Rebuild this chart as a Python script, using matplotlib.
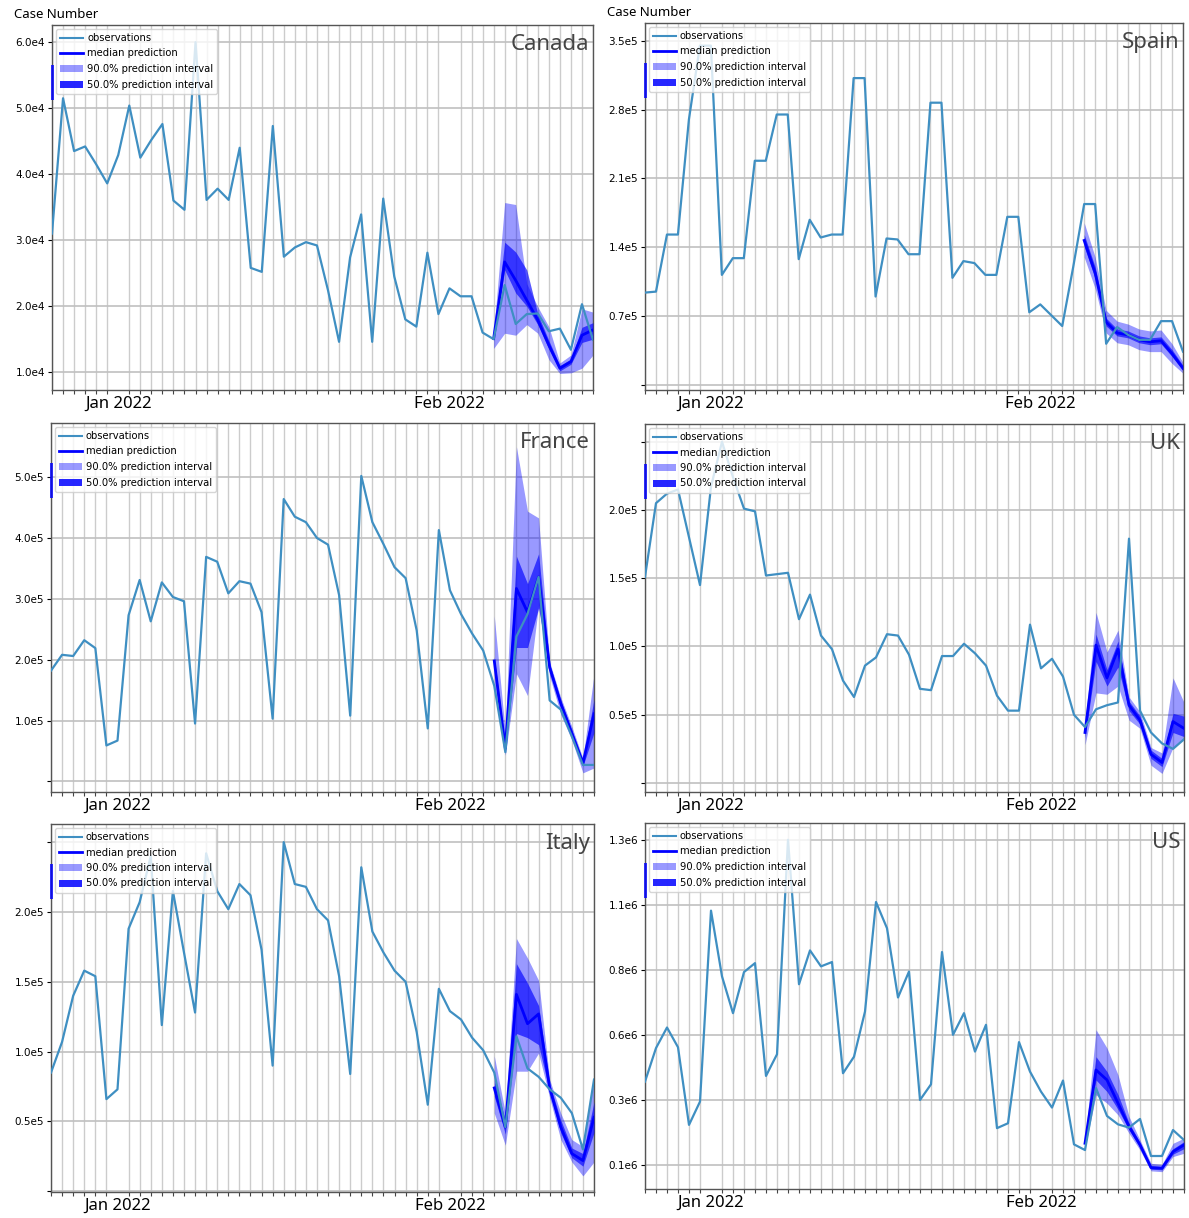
import matplotlib
matplotlib.use('Agg')
import matplotlib.pyplot as plt
import matplotlib.dates as mdates
from matplotlib.lines import Line2D
from matplotlib.patches import Patch, Rectangle
import numpy as np
import pandas as pd
from datetime import datetime

dates = pd.date_range('2021-12-28', periods=50)
pred_dates = dates[40:]

# observations
canada_obs = np.array([3.1, 5.15, 4.35, 4.42, 4.15, 3.86, 4.29, 5.04, 4.25, 4.52,
                       4.76, 3.6, 3.46, 6.0, 3.61, 3.78, 3.61, 4.4, 2.58, 2.52,
                       4.73, 2.75, 2.89, 2.97, 2.92, 2.24, 1.46, 2.74, 3.39, 1.46,
                       3.63, 2.45, 1.8, 1.69, 2.81, 1.88, 2.27, 2.15, 2.15, 1.6,
                       1.5, 2.32, 1.73, 1.88, 1.89, 1.62, 1.66, 1.34, 2.03, 1.49]) * 1e4
spain_obs = np.array([0.94, 0.95, 1.53, 1.53, 2.7, 3.45, 3.45, 1.12, 1.29, 1.29,
                      2.28, 2.28, 2.75, 2.75, 1.28, 1.68, 1.5, 1.53, 1.53, 3.12,
                      3.12, 0.9, 1.49, 1.48, 1.33, 1.33, 2.87, 2.87, 1.09, 1.26,
                      1.24, 1.12, 1.12, 1.71, 1.71, 0.74, 0.82, 0.71, 0.6, 1.2,
                      1.84, 1.84, 0.42, 0.59, 0.51, 0.46, 0.46, 0.65, 0.65, 0.34]) * 1e5
france_obs = np.array([1.82, 2.08, 2.06, 2.32, 2.19, 0.59, 0.67, 2.73, 3.31, 2.63,
                       3.27, 3.03, 2.96, 0.95, 3.69, 3.61, 3.09, 3.29, 3.25, 2.78,
                       1.03, 4.64, 4.35, 4.26, 4.0, 3.89, 3.06, 1.08, 5.02, 4.26,
                       3.9, 3.52, 3.34, 2.48, 0.87, 4.13, 3.14, 2.75, 2.43, 2.15,
                       1.57, 0.48, 2.38, 2.75, 3.36, 1.33, 1.18, 0.74, 0.27, 0.27]) * 1e5
uk_obs = np.array([1.51, 2.05, 2.12, 2.15, 1.8, 1.45, 2.17, 2.5, 2.24, 2.01,
                   1.99, 1.52, 1.53, 1.54, 1.2, 1.38, 1.08, 0.98, 0.75, 0.63,
                   0.86, 0.92, 1.09, 1.08, 0.94, 0.69, 0.68, 0.93, 0.93, 1.02,
                   0.95, 0.86, 0.64, 0.53, 0.53, 1.16, 0.84, 0.91, 0.78, 0.5,
                   0.41, 0.54, 0.57, 0.59, 1.79, 0.53, 0.37, 0.29, 0.25, 0.32]) * 1e5
italy_obs = np.array([0.85, 1.07, 1.4, 1.58, 1.54, 0.66, 0.73, 1.88, 2.07, 2.4,
                      1.19, 2.15, 1.71, 1.28, 2.42, 2.15, 2.02, 2.2, 2.12, 1.73,
                      0.9, 2.5, 2.2, 2.18, 2.02, 1.94, 1.54, 0.84, 2.32, 1.86,
                      1.71, 1.58, 1.5, 1.14, 0.62, 1.45, 1.29, 1.23, 1.1, 1.01,
                      0.85, 0.46, 1.11, 0.88, 0.82, 0.73, 0.67, 0.56, 0.3, 0.8]) * 1e5
us_obs = np.array([0.408, 0.532, 0.608, 0.535, 0.248, 0.334, 1.04, 0.797, 0.661, 0.813,
                   0.846, 0.429, 0.509, 1.302, 0.768, 0.893, 0.834, 0.85, 0.439, 0.5,
                   0.667, 1.072, 0.975, 0.719, 0.815, 0.34, 0.398, 0.887, 0.581, 0.661,
                   0.519, 0.618, 0.236, 0.254, 0.554, 0.445, 0.371, 0.312, 0.412, 0.176,
                   0.155, 0.384, 0.281, 0.25, 0.238, 0.27, 0.133, 0.133, 0.229, 0.192]) * 1e6

# predictions: median, 90% and 50% intervals
canada_med = np.array([1.51, 2.67, 2.39, 2.09, 1.79, 1.41, 1.06, 1.16, 1.56, 1.64]) * 1e4
canada_lo90 = np.array([1.36, 1.59, 1.56, 1.72, 1.59, 1.19, 0.98, 0.99, 1.06, 1.26]) * 1e4
canada_hi90 = np.array([1.59, 3.57, 3.54, 2.34, 1.99, 1.69, 1.14, 1.26, 1.96, 1.91]) * 1e4
canada_lo50 = np.array([1.47, 2.55, 2.2, 2.0, 1.72, 1.35, 1.02, 1.12, 1.45, 1.5]) * 1e4
canada_hi50 = np.array([1.55, 2.97, 2.82, 2.55, 1.88, 1.48, 1.1, 1.2, 1.68, 1.75]) * 1e4

spain_med = np.array([1.47, 1.14, 0.64, 0.53, 0.51, 0.46, 0.44, 0.45, 0.32, 0.17]) * 1e5
spain_lo90 = np.array([1.30, 0.98, 0.53, 0.43, 0.41, 0.36, 0.34, 0.34, 0.22, 0.12]) * 1e5
spain_hi90 = np.array([1.65, 1.30, 0.76, 0.65, 0.62, 0.57, 0.55, 0.56, 0.42, 0.23]) * 1e5
spain_lo50 = np.array([1.41, 1.08, 0.6, 0.5, 0.48, 0.43, 0.41, 0.42, 0.29, 0.15]) * 1e5
spain_hi50 = np.array([1.53, 1.2, 0.68, 0.57, 0.55, 0.5, 0.48, 0.49, 0.36, 0.2]) * 1e5

france_med = np.array([1.98, 0.54, 3.17, 2.78, 3.36, 1.87, 1.28, 0.79, 0.30, 1.11]) * 1e5
france_lo90 = np.array([1.54, 0.43, 1.77, 1.41, 2.9, 1.73, 1.1, 0.68, 0.14, 0.22]) * 1e5
france_hi90 = np.array([2.72, 0.79, 5.5, 4.44, 4.33, 1.96, 1.38, 0.9, 0.38, 1.76]) * 1e5
france_lo50 = np.array([1.88, 0.49, 2.2, 2.2, 2.85, 1.81, 1.22, 0.75, 0.25, 0.8]) * 1e5
france_hi50 = np.array([2.05, 0.6, 3.7, 3.25, 3.74, 1.93, 1.33, 0.84, 0.34, 1.35]) * 1e5

uk_med = np.array([0.37, 1.01, 0.77, 0.98, 0.57, 0.46, 0.21, 0.15, 0.45, 0.40]) * 1e5
uk_lo90 = np.array([0.28, 0.66, 0.65, 0.71, 0.46, 0.40, 0.13, 0.07, 0.26, 0.32]) * 1e5
uk_hi90 = np.array([0.44, 1.25, 0.96, 1.12, 0.63, 0.52, 0.26, 0.22, 0.77, 0.59]) * 1e5
uk_lo50 = np.array([0.33, 0.89, 0.71, 0.85, 0.53, 0.43, 0.18, 0.12, 0.37, 0.34]) * 1e5
uk_hi50 = np.array([0.41, 1.09, 0.83, 1.04, 0.60, 0.49, 0.24, 0.18, 0.51, 0.49]) * 1e5

italy_med = np.array([0.74, 0.46, 1.41, 1.20, 1.27, 0.74, 0.46, 0.27, 0.22, 0.53]) * 1e5
italy_lo90 = np.array([0.56, 0.33, 0.86, 0.86, 0.99, 0.67, 0.37, 0.21, 0.11, 0.21]) * 1e5
italy_hi90 = np.array([0.97, 0.56, 1.81, 1.67, 1.51, 0.80, 0.56, 0.37, 0.32, 0.80]) * 1e5
italy_lo50 = np.array([0.68, 0.41, 1.13, 1.10, 1.05, 0.71, 0.42, 0.24, 0.18, 0.42]) * 1e5
italy_hi50 = np.array([0.80, 0.51, 1.63, 1.49, 1.33, 0.77, 0.51, 0.31, 0.27, 0.64]) * 1e5

us_med = np.array([0.18, 0.451, 0.414, 0.328, 0.242, 0.174, 0.09, 0.088, 0.149, 0.174]) * 1e6
us_lo90 = np.array([0.162, 0.359, 0.328, 0.285, 0.217, 0.155, 0.078, 0.075, 0.131, 0.143]) * 1e6
us_hi90 = np.array([0.192, 0.60, 0.532, 0.433, 0.279, 0.192, 0.106, 0.102, 0.18, 0.199]) * 1e6
us_lo50 = np.array([0.172, 0.414, 0.371, 0.305, 0.23, 0.165, 0.084, 0.082, 0.14, 0.16]) * 1e6
us_hi50 = np.array([0.186, 0.50, 0.445, 0.36, 0.255, 0.183, 0.097, 0.094, 0.16, 0.186]) * 1e6

# y ticks and their (hand written) labels
canada_ticks = [1e4, 2e4, 3e4, 4e4, 5e4, 6e4]
canada_labels = ['1.0e4', '2.0e4', '3.0e4', '4.0e4', '5.0e4', '6.0e4']
spain_ticks = [0, 0.7e5, 1.4e5, 2.1e5, 2.8e5, 3.5e5]
spain_labels = ['', '0.7e5', '1.4e5', '2.1e5', '2.8e5', '3.5e5']
france_ticks = [0, 1e5, 2e5, 3e5, 4e5, 5e5]
france_labels = ['', '1.0e5', '2.0e5', '3.0e5', '4.0e5', '5.0e5']
uk_ticks = [0, 0.5e5, 1e5, 1.5e5, 2e5, 2.5e5]
uk_labels = ['', '0.5e5', '1.0e5', '1.5e5', '2.0e5', '']
italy_ticks = [0, 0.5e5, 1e5, 1.5e5, 2e5, 2.5e5]
italy_labels = ['', '0.5e5', '1.0e5', '1.5e5', '2.0e5', '']
us_ticks = [0.1e6, 0.34e6, 0.58e6, 0.82e6, 1.06e6, 1.30e6]
us_labels = ['0.1e6', '0.3e6', '0.6e6', '0.8e6', '1.1e6', '1.3e6']

panels = [
    ('Canada', [52, 390, 541, 365], canada_obs, canada_med, canada_lo90, canada_hi90,
     canada_lo50, canada_hi50, canada_ticks, canada_labels, (0.73e4, 6.26e4)),
    ('Spain', [645, 390, 538, 367], spain_obs, spain_med, spain_lo90, spain_hi90,
     spain_lo50, spain_hi50, spain_ticks, spain_labels, (-0.05e5, 3.68e5)),
    ('France', [51, 792, 543, 369], france_obs, france_med, france_lo90, france_hi90,
     france_lo50, france_hi50, france_ticks, france_labels, (-0.175e5, 5.89e5)),
    ('UK', [645, 792, 539, 368], uk_obs, uk_med, uk_lo90, uk_hi90,
     uk_lo50, uk_hi50, uk_ticks, uk_labels, (-0.066e5, 2.63e5)),
    ('Italy', [51, 1192, 543, 368], italy_obs, italy_med, italy_lo90, italy_hi90,
     italy_lo50, italy_hi50, italy_ticks, italy_labels, (-0.005e5, 2.63e5)),
    ('US', [645, 1189, 539, 366], us_obs, us_med, us_lo90, us_hi90,
     us_lo50, us_hi50, us_ticks, us_labels, (0.011e6, 1.364e6)),
]

W, H = 1189, 1218
fig = plt.figure(figsize=(W / 100, H / 100), dpi=100)
fig.patch.set_facecolor('white')

obs_color = '#3f8fc2'
handles = [Line2D([], [], color=obs_color, lw=1.5),
           Line2D([], [], color='blue', lw=2),
           Patch(facecolor='blue', alpha=0.4, edgecolor='none'),
           Patch(facecolor='blue', alpha=0.85, edgecolor='none')]
names = ['observations', 'median prediction', '90.0% prediction interval', '50.0% prediction interval']

for name, (px, pb, pw, ph), obs, med, lo90, hi90, lo50, hi50, yt, yl, ylim in panels:
    ax = fig.add_axes([px / W, 1 - pb / H, pw / W, ph / H])
    ax.fill_between(pred_dates, lo90, hi90, color='blue', alpha=0.4, lw=0, zorder=2)
    ax.fill_between(pred_dates, lo50, hi50, color='blue', alpha=0.65, lw=0, zorder=3)
    ax.plot(pred_dates, med, color='blue', lw=2, zorder=4)
    ax.plot(dates, obs, color=obs_color, lw=1.6, zorder=5)

    ax.set_xlim(dates[0], dates[-1])
    ax.set_ylim(*ylim)
    ax.set_yticks(yt)
    ax.set_yticklabels(yl)
    ax.tick_params(axis='y', labelsize=7.5, length=3, pad=2)

    ax.xaxis.set_minor_locator(mdates.DayLocator())
    ax.set_xticks([mdates.date2num(datetime(2022, 1, 3)), mdates.date2num(datetime(2022, 2, 2))])
    ax.set_xticklabels(['Jan 2022', 'Feb 2022'], fontsize=12, family='Noto Sans')
    ax.tick_params(axis='x', which='major', length=0, pad=4)
    ax.tick_params(axis='x', which='minor', length=3, width=0.8, color='#444')

    ax.grid(which='minor', axis='x', color='#cccccc', lw=1.0)
    ax.grid(which='major', axis='y', color='#c0c0c0', lw=1.2)
    ax.grid(which='major', axis='x', visible=False)
    ax.set_axisbelow(True)
    for s in ax.spines.values():
        s.set_color('#555555')
        s.set_linewidth(1.0)

    ax.text(0.993, 0.975, name, transform=ax.transAxes, ha='right', va='top',
            fontsize=16, color='#444444', family='Noto Sans')
    ax.legend(handles, names, loc='upper left', fontsize=7.2, framealpha=0.8,
              borderaxespad=0.4, handlelength=2.3, labelspacing=0.55,
              borderpad=0.4, handletextpad=0.4)
    # blue smear left of the legend, as in the source picture
    ax.add_patch(Rectangle((-0.002, 1 - 75 / ph), 0.006, 35 / ph, transform=ax.transAxes,
                           color='blue', alpha=0.8, lw=0, clip_on=False, zorder=6))

fig.text(14 / W, 1 - 14 / H, 'Case Number', fontsize=9.5, va='center', ha='left', family='Noto Sans')
fig.text(607 / W, 1 - 13 / H, 'Case Number', fontsize=9.5, va='center', ha='left', family='Noto Sans')

fig.savefig('out.png', dpi=100)
